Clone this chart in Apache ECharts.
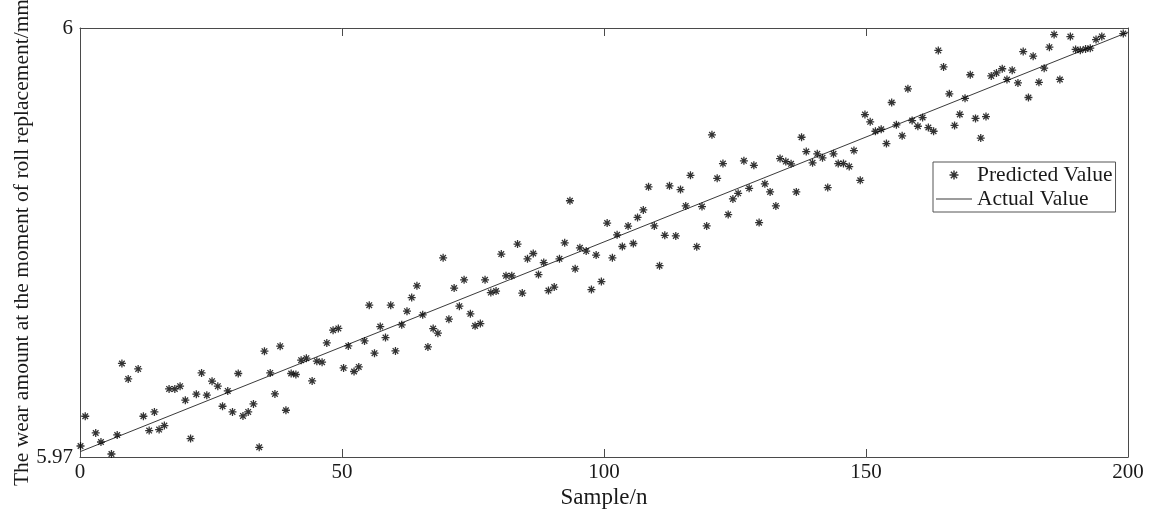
<!DOCTYPE html>
<html>
<head>
<meta charset="utf-8">
<script src="https://cdn.jsdelivr.net/npm/echarts@6/dist/echarts.min.js"></script>
<style>
html,body{margin:0;padding:0;background:#fff;}
#chart{width:1155px;height:512px;}
</style>
</head>
<body>
<div id="chart"></div>
<script>
// Sample positions of predicted points
const predX = [
0.1,1.0,3.0,4.0,6.0,7.1,8.0,9.2,11.1,12.1,13.2,14.2,15.1,16.1,17.0,18.1,19.1,20.1,21.1,22.2,23.2,24.2,25.2,26.3,27.2,28.2,29.1,30.2,31.1,32.1,33.1,34.2,35.2,36.3,37.2,38.2,39.3,40.3,41.2,42.2,43.2,44.3,45.2,46.2,47.1,48.3,49.3,50.3,51.2,52.3,53.2,54.3,55.2,56.2,57.3,
58.3,59.3,60.2,61.4,62.4,63.3,64.3,65.4,66.4,67.4,68.3,69.3,70.4,71.4,72.4,73.3,74.5,75.4,76.4,77.3,78.4,79.4,80.4,81.3,82.4,83.5,84.4,85.4,86.5,87.5,88.5,89.4,90.5,91.5,92.5,93.5,94.5,95.4,96.6,97.6,98.5,99.5,100.6,101.6,102.5,103.5,104.6,105.6,106.4,
107.5,108.5,109.6,110.6,111.6,112.5,113.7,114.6,115.6,116.5,117.7,118.7,119.6,120.6,121.6,122.7,123.7,124.6,125.6,126.7,127.7,128.6,129.6,130.7,131.7,132.8,133.6,134.7,135.7,136.7,137.7,138.6,139.8,140.7,141.7,142.7,143.8,144.7,145.7,146.8,147.7,148.9,149.8,150.8,151.8,152.9,153.9,154.9,155.8,
156.9,158.0,158.8,159.9,160.8,161.9,162.9,163.8,164.8,165.9,166.9,167.9,168.9,169.9,170.9,171.9,172.9,173.9,174.9,176.0,176.9,177.9,179.0,180.0,181.0,181.9,183.0,184.0,185.0,185.9,187.0,189.0,190.0,190.9,191.9,192.8,193.9,195.0,199.1
];
// Predicted wear values (mm)
const predicted = [
5.97077,5.97285,5.97168,5.97105,5.97021,5.97154,5.97654,5.97546,5.97616,5.97285,5.97185,5.97315,5.97192,5.97220,5.97476,5.97476,5.97495,5.97397,5.97129,5.97439,5.97588,5.97432,5.97530,5.97495,5.97355,5.97462,5.97315,5.97584,5.97287,5.97315,5.97371,5.97068,5.97740,5.97588,5.97441,5.97775,5.97327,5.97584,5.97577,5.97677,5.97691,5.97532,5.97670,5.97663,5.97798,5.97887,5.97899,5.97623,5.97777,5.97598,5.97630,5.97812,5.98062,5.97726,5.97912,
5.97835,5.98062,5.97742,5.97924,5.98020,5.98115,5.98197,5.97994,5.97770,5.97898,5.97866,5.98393,5.97964,5.98181,5.98055,5.98239,5.98001,5.97917,5.97933,5.98239,5.98150,5.98160,5.98419,5.98267,5.98267,5.98489,5.98146,5.98386,5.98423,5.98276,5.98360,5.98164,5.98188,5.98386,5.98498,5.98792,5.98316,5.98463,5.98440,5.98171,5.98412,5.98227,5.98636,5.98393,5.98554,5.98472,5.98615,5.98493,5.98675,
5.98728,5.98889,5.98616,5.98338,5.98550,5.98896,5.98546,5.98870,5.98756,5.98970,5.98471,5.98751,5.98616,5.99253,5.98949,5.99052,5.98695,5.98805,5.98844,5.99071,5.98879,5.99040,5.98639,5.98910,5.98854,5.98756,5.99087,5.99066,5.99050,5.98854,5.99236,5.99136,5.99057,5.99120,5.99092,5.98884,5.99120,5.99052,5.99052,5.99031,5.99143,5.98935,5.99395,5.99344,5.99278,5.99292,5.99192,5.99479,5.99323,
5.99246,5.99575,5.99353,5.99313,5.99374,5.99304,5.99278,5.99843,5.99728,5.99540,5.99319,5.99396,5.99508,5.99673,5.99368,5.99230,5.99381,5.99665,5.99686,5.99715,5.99640,5.99705,5.99616,5.99835,5.99514,5.99803,5.99620,5.99719,5.99866,5.99954,5.99640,5.99940,5.99850,5.99845,5.99853,5.99859,5.99919,5.99941,5.99961
];
// Actual value line (end points)
const actualX = [0, 200];
const actual = [5.97037, 5.99971];
const xTicks = [0, 50, 100, 150, 200];
const yTicks = [5.97, 6];

const FONT = 'Liberation Serif';
const AX = '#4a4a4a';
const STAR = 'path://M4.2,0H5.8V10H4.2Z M0,4.2H10V5.8H0Z M2.07,0.93L9.07,7.93L7.93,9.07L0.93,2.07Z M7.93,0.93L9.07,2.07L2.07,9.07L0.93,7.93Z';
const LINE_ICON = 'path://M0,0H36V1.2H0Z';

const scatterData = predX.map((x, i) => [x, predicted[i]]);
const lineData = actualX.map((x, i) => [x, actual[i]]);

const chart = echarts.init(document.getElementById('chart'), null, {renderer: 'canvas'});
const axisCommon = {
  axisLine: {show: true, onZero: false, lineStyle: {color: AX, width: 1}},
  axisTick: {show: true, inside: true, length: 8, lineStyle: {color: AX}},
  splitLine: {show: false}
};
chart.setOption({
  animation: false,
  backgroundColor: '#fff',
  grid: {left: 80, right: 27, top: 28, bottom: 55, containLabel: false, outerBoundsMode: 'none'},
  xAxis: [
    Object.assign({
      type: 'value', min: xTicks[0], max: xTicks[xTicks.length - 1], interval: xTicks[1] - xTicks[0],
      name: 'Sample/n', nameLocation: 'middle', nameGap: 29, nameMoveOverlap: false,
      nameTextStyle: {fontFamily: FONT, fontSize: 23, color: '#1a1a1a'},
      axisLabel: {fontFamily: FONT, fontSize: 21, color: '#1a1a1a', margin: 5}
    }, axisCommon),
    Object.assign({
      type: 'value', position: 'top', min: xTicks[0], max: xTicks[xTicks.length - 1], interval: xTicks[1] - xTicks[0],
      axisLabel: {show: false}
    }, axisCommon)
  ],
  yAxis: [
    Object.assign({
      type: 'value', min: yTicks[0], max: yTicks[1], interval: +(yTicks[1] - yTicks[0]).toFixed(2),
      name: 'The wear amount at the moment of roll replacement/mm', nameLocation: 'middle', nameGap: 47, nameRotate: 90,
      nameMoveOverlap: false,
      nameTextStyle: {fontFamily: FONT, fontSize: 21.5, color: '#1a1a1a'},
      axisLabel: {fontFamily: FONT, fontSize: 21, color: '#1a1a1a', margin: 7,
        formatter: v => String(+v.toFixed(2))}
    }, axisCommon),
    Object.assign({
      type: 'value', position: 'right', min: yTicks[0], max: yTicks[1], interval: +(yTicks[1] - yTicks[0]).toFixed(2),
      axisLabel: {show: false}
    }, axisCommon)
  ],
  legend: {
    orient: 'vertical', left: 933, top: 162,
    backgroundColor: '#fff', borderColor: '#555', borderWidth: 1,
    padding: [2, 3, 2, 3], itemGap: 2, itemWidth: 36, itemHeight: 9,
    textStyle: {fontFamily: FONT, fontSize: 21.5, color: '#1a1a1a', lineHeight: 21},
    data: [
      {name: 'Predicted Value', icon: STAR, itemStyle: {color: '#000'}},
      {name: 'Actual Value', icon: LINE_ICON, itemStyle: {color: '#3a3a3a'}}
    ]
  },
  series: [
    {
      name: 'Predicted Value', type: 'scatter', xAxisIndex: 0, yAxisIndex: 0,
      symbol: STAR, symbolSize: 8, itemStyle: {color: '#000'},
      data: scatterData, z: 3
    },
    {
      name: 'Actual Value', type: 'line', xAxisIndex: 0, yAxisIndex: 0,
      symbol: 'none', showSymbol: false, lineStyle: {color: '#3a3a3a', width: 1}, itemStyle: {color: '#3a3a3a'},
      data: lineData, z: 2
    }
  ]
});
</script>
</body>
</html>
